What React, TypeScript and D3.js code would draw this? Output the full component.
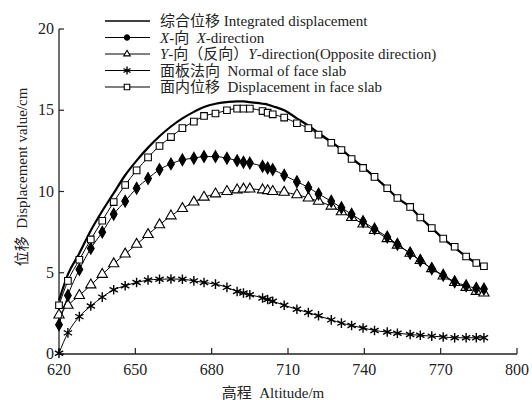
import React from "react";
import * as d3 from "d3";

const altitudes = [620, 623.5, 628, 632.5, 637, 641.5, 646, 650.5, 655, 659.5, 664, 668.5, 673, 677, 681.5, 686, 690, 692.5, 695, 700, 702, 704, 708.5, 713.5, 718, 722, 727, 731, 735, 739.5, 744, 749, 753, 758, 762, 766.5, 771, 775.5, 780, 784, 787];

const integrated = [3.3, 4.9, 6.2, 7.6, 8.8, 9.9, 11.0, 11.9, 12.7, 13.4, 14.0, 14.5, 14.9, 15.2, 15.4, 15.5, 15.55, 15.55, 15.5, 15.4, 15.35, 15.25, 15.0, 14.5, 14.05, 13.6, 13.05, 12.6, 12.05, 11.5, 10.9, 10.2, 9.6, 9.05, 8.4, 7.75, 7.1, 6.55, 6.0, 5.6, 5.4];
const xDirection = [1.8, 3.6, 5.2, 6.5, 7.5, 8.6, 9.4, 10.2, 10.8, 11.35, 11.7, 11.95, 12.05, 12.15, 12.15, 12.05, 11.9, 11.8, 11.75, 11.55, 11.45, 11.35, 11.0, 10.6, 10.25, 9.85, 9.4, 9.0, 8.6, 8.15, 7.7, 7.2, 6.75, 6.2, 5.75, 5.25, 4.85, 4.45, 4.2, 4.05, 4.0];
const yDirection = [2.4, 3.0, 3.6, 4.25, 4.9, 5.55, 6.15, 6.75, 7.35, 7.95, 8.5, 8.95, 9.35, 9.65, 9.85, 10.0, 10.1, 10.15, 10.15, 10.1, 10.05, 10.0, 9.95, 9.8, 9.6, 9.4, 9.1, 8.75, 8.4, 8.0, 7.6, 7.1, 6.7, 6.2, 5.75, 5.25, 4.8, 4.4, 4.1, 3.85, 3.75];
const normalSlab = [0.05, 1.3, 2.3, 2.95, 3.5, 3.95, 4.2, 4.4, 4.55, 4.6, 4.62, 4.6, 4.5, 4.4, 4.3, 4.1, 3.85, 3.75, 3.65, 3.45, 3.35, 3.25, 3.0, 2.75, 2.55, 2.35, 2.1, 1.9, 1.75, 1.6, 1.45, 1.35, 1.28, 1.2, 1.15, 1.1, 1.05, 1.0, 1.0, 1.0, 1.0];
const inFaceSlab = [3.0, 4.5, 5.8, 7.05, 8.2, 9.35, 10.4, 11.3, 12.1, 12.8, 13.35, 13.9, 14.3, 14.65, 14.8, 15.0, 15.1, 15.1, 15.1, 14.95, 14.85, 14.75, 14.55, 14.2, 13.9, 13.5, 13.0, 12.55, 12.0, 11.45, 10.9, 10.2, 9.6, 9.05, 8.4, 7.75, 7.1, 6.6, 6.0, 5.6, 5.4];

const xTicks = [620, 650, 680, 710, 740, 770, 800];
const yTicks = [0, 5, 10, 15, 20];

const FONT = "'Liberation Serif', 'Times New Roman', 'Noto Sans CJK SC', serif";

type Marker = "none" | "diamond" | "triangle" | "asterisk" | "square" | "circle";

function markerPath(m: Marker, size: number): string {
  const map: Record<string, any> = {
    diamond: d3.symbolDiamond,
    triangle: d3.symbolTriangle,
    asterisk: d3.symbolAsterisk,
    square: d3.symbolSquare,
    circle: d3.symbolCircle,
  };
  return d3.symbol().type(map[m]).size(size)() || "";
}

function MarkerShape({ m, x, y, legend }: { m: Marker; x: number; y: number; legend?: boolean }) {
  if (m === "none") return null;
  const sizes: Record<string, number> = { diamond: 40, triangle: 46, asterisk: 64, square: 44, circle: 30 };
  const s = legend ? sizes[m] * (m === "triangle" ? 0.4 : 0.7) : sizes[m];
  const d = markerPath(m, s);
  const filled = m === "diamond" || m === "circle";
  return (
    <path
      d={d}
      transform={`translate(${x},${y})`}
      fill={filled ? "#000" : "#fff"}
      stroke="#000"
      strokeWidth={m === "asterisk" ? 1.4 : 1.1}
    />
  );
}

export default function App() {
  const x = d3.scaleLinear().domain([620, 800]).range([59, 517]);
  const y = d3.scaleLinear().domain([0, 20]).range([354, 29]);

  const series: { values: number[]; marker: Marker; width: number }[] = [
    { values: integrated, marker: "none", width: 2.2 },
    { values: yDirection, marker: "triangle", width: 1 },
    { values: xDirection, marker: "diamond", width: 1 },
    { values: normalSlab, marker: "asterisk", width: 1 },
    { values: inFaceSlab, marker: "square", width: 1 },
  ];

  const line = d3
    .line<number>()
    .x((_, i) => x(altitudes[i]))
    .y((v) => y(v))
    .curve(d3.curveMonotoneX);

  const legendRows: { marker: Marker; width: number; label: React.ReactNode }[] = [
    { marker: "none", width: 1.6, label: <>综合位移 Integrated displacement</> },
    {
      marker: "circle",
      width: 1,
      label: (
        <>
          <tspan fontStyle="italic">X</tspan>-向&#160; <tspan fontStyle="italic">X</tspan>-direction
        </>
      ),
    },
    {
      marker: "triangle",
      width: 1,
      label: (
        <>
          <tspan fontStyle="italic">Y</tspan>-向（反向）<tspan fontStyle="italic">Y</tspan>-direction(Opposite direction)
        </>
      ),
    },
    { marker: "asterisk", width: 1, label: <>面板法向&#160; Normal of face slab</> },
    { marker: "square", width: 1, label: <>面内位移&#160; Displacement in face slab</> },
  ];
  const legendY = [21, 37.5, 54, 70.5, 87];

  return (
    <svg width={532} height={400} style={{ position: "absolute", left: 0, top: 0, background: "#fff" }} fontFamily={FONT}>
      <rect x={0} y={0} width={532} height={400} fill="#fff" />
      {/* axes */}
      <line x1={x(620)} x2={x(800)} y1={y(0)} y2={y(0)} stroke="#222" strokeWidth={1.3} />
      <line x1={x(620)} x2={x(620)} y1={y(0)} y2={y(20)} stroke="#222" strokeWidth={1.3} />
      {xTicks.map((t) => (
        <g key={"xt" + t}>
          <line x1={x(t)} x2={x(t)} y1={y(0)} y2={y(0) - 6} stroke="#222" strokeWidth={1.2} />
          <text x={x(t)} y={y(0) + 21} textAnchor="middle" fontSize={16} fill="#222">
            {t}
          </text>
        </g>
      ))}
      {yTicks.map((t) => (
        <g key={"yt" + t}>
          <line x1={x(620)} x2={x(620) + 5} y1={y(t)} y2={y(t)} stroke="#222" strokeWidth={1.2} />
          <text x={x(620) - 5} y={y(t) + 5} textAnchor="end" fontSize={16} fill="#222">
            {t}
          </text>
        </g>
      ))}
      <text x={273} y={398} textAnchor="middle" fontSize={15} fill="#222">
        高程&#160; Altitude/m
      </text>
      <text transform={`translate(27,177) rotate(-90)`} textAnchor="middle" fontSize={15} fill="#222">
        位移&#160; Displacement value/cm
      </text>

      {/* series */}
      {series.map((s, si) => (
        <g key={"s" + si}>
          <path d={line(s.values) || ""} fill="none" stroke="#000" strokeWidth={s.width} />
          {s.values.map((v, i) => (
            <MarkerShape key={i} m={s.marker} x={x(altitudes[i])} y={y(v)} />
          ))}
        </g>
      ))}

      {/* legend */}
      {legendRows.map((r, i) => (
        <g key={"lg" + i}>
          <line x1={105} x2={150} y1={legendY[i]} y2={legendY[i]} stroke="#000" strokeWidth={r.width} />
          <MarkerShape m={r.marker} x={127} y={legendY[i]} legend />
          <text x={160} y={legendY[i] + 5} fontSize={15} fill="#222">
            {r.label}
          </text>
        </g>
      ))}
    </svg>
  );
}
